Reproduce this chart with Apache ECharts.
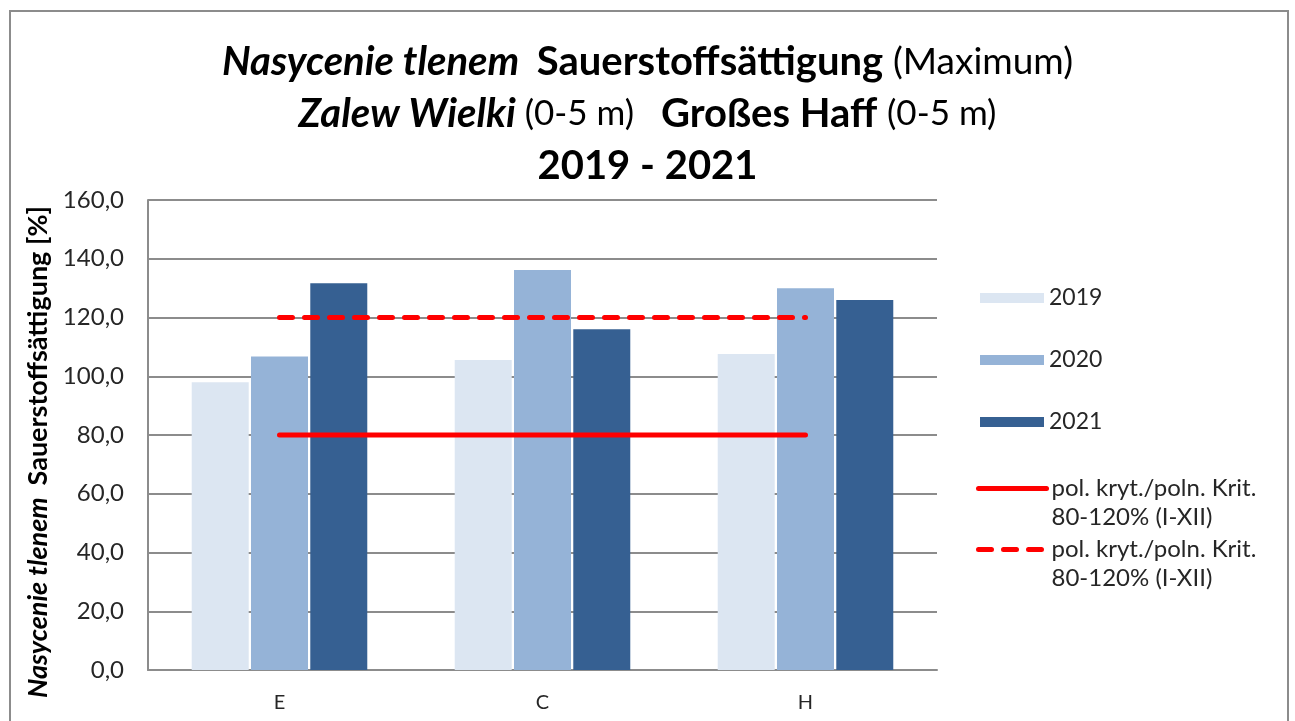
<!DOCTYPE html>
<html>
<head>
<meta charset="utf-8">
<script src="https://cdn.jsdelivr.net/npm/echarts@6/dist/echarts.min.js"></script>
<style>
html, body { margin: 0; padding: 0; background: #fff; }
#chart { width: 1295px; height: 721px; }
</style>
</head>
<body>
<div id="chart"></div>
<script>
// Stationen
var stations = ['E', 'C', 'H'];
// Sauerstoffsättigung Maximum [%]
var sat2019 = [98.0, 105.5, 107.6];
var sat2020 = [106.7, 136.2, 130.0];
var sat2021 = [131.7, 116.0, 126.0];
// Kriterium 80-120%
var krit80 = [80, 80, 80];
var krit120 = [120, 120, 120];
var kritLabel = 'pol. kryt./poln. Krit.\n80-120% (I-XII)';

var font = 'Lato, "Liberation Sans", sans-serif';
var chart = echarts.init(document.getElementById('chart'));

function barSeries(name, data, color) {
	return {
		name : name,
		type : 'bar',
		data : data,
		barWidth : 57,
		barGap : '4%',
		itemStyle : { color : color },
		z : 2
	};
}

function lineSeries(name, data, type) {
	return {
		name : name,
		type : 'line',
		data : data,
		symbol : 'none',
		lineStyle : {
			color : '#ff0000',
			width : 5,
			type : type,
			cap : 'round'
		},
		itemStyle : { color : '#ff0000' },
		z : 5
	};
}

var legendText = {
	fontFamily : font,
	fontSize : 23,
	color : '#262626'
};

function lineLegend(name, top, type) {
	return {
		data : [ name ],
		orient : 'vertical',
		left : 971,
		top : top,
		itemWidth : 68,
		itemHeight : 14,
		itemStyle : { opacity : 0 },
		lineStyle : { color : '#ff0000', width : 5, type : type, cap : 'round' },
		// leere erste Zeile, damit das Symbol neben der ersten Textzeile steht
		formatter : function() { return ' \n' + kritLabel; },
		textStyle : Object.assign({ lineHeight : 29 }, legendText, { fontSize : 24 })
	};
}

var option = {
	backgroundColor : '#fff',
	animation : false,
	textStyle : { fontFamily : font },
	title : {
		left : 'center',
		top : 31,
		text : '{bi|Nasycenie tlenem  }{b|Sauerstoffsättigung }{n|(Maximum)}\n'
			+ '{bi|Zalew Wielki }{s|(0-5 m)   }{b|Großes Haff }{s|(0-5 m)}\n'
			+ '{b|2019 - 2021}',
		textStyle : {
			align : 'center',
			rich : {
				bi : { fontFamily : font, fontSize : 40, fontWeight : 'bold', fontStyle : 'italic', color : '#000', lineHeight : 52 },
				b : { fontFamily : font, fontSize : 40, fontWeight : 'bold', color : '#000', lineHeight : 52 },
				n : { fontFamily : font, fontSize : 37, fontWeight : 'normal', color : '#000', lineHeight : 52 },
				s : { fontFamily : font, fontSize : 35, fontWeight : 'normal', color : '#000', lineHeight : 52 }
			}
		}
	},
	graphic : [ {
		type : 'rect',
		shape : { x : 10, y : 11, width : 1278, height : 730 },
		style : { fill : 'none', stroke : '#8c8c8c', lineWidth : 2 },
		silent : true
	} ],
	legend : [ {
		data : [ '2019', '2020', '2021' ],
		orient : 'vertical',
		left : 975,
		top : 281,
		itemWidth : 64,
		itemHeight : 10,
		itemGap : 38,
		icon : 'rect',
		textStyle : Object.assign({ lineHeight : 24 }, legendText)
	},
		lineLegend('krit80', 440, 'solid'),
		lineLegend('krit120', 501, [ 13, 12 ])
	],
	grid : {
		left : 148,
		right : 358,
		top : 200,
		bottom : 51
	},
	xAxis : {
		type : 'category',
		data : stations,
		axisLine : { lineStyle : { color : '#8c8c8c', width : 2 } },
		axisTick : { show : false },
		axisLabel : {
			fontFamily : font,
			fontSize : 20,
			color : '#262626',
			margin : 23
		}
	},
	yAxis : {
		type : 'value',
		min : 0,
		max : 160,
		interval : 20,
		name : '{bi|Nasycenie tlenem  }{b|Sauerstoffsättigung [%]}',
		nameLocation : 'middle',
		nameRotate : 90,
		nameGap : 96,
		nameTextStyle : {
			padding : [ 0, 34, 0, 0 ],
			rich : {
				bi : { fontFamily : font, fontSize : 27, fontWeight : 'bold', fontStyle : 'italic', color : '#000' },
				b : { fontFamily : font, fontSize : 27, fontWeight : 'bold', color : '#000' }
			}
		},
		axisLine : { show : true, lineStyle : { color : '#8c8c8c', width : 2 } },
		axisTick : { show : false },
		splitLine : { lineStyle : { color : '#8c8c8c', width : 2 } },
		axisLabel : {
			fontFamily : font,
			fontSize : 24,
			color : '#262626',
			margin : 24,
			formatter : function(v) { return v.toFixed(1).replace('.', ','); }
		}
	},
	series : [
		barSeries('2019', sat2019, '#dce6f2'),
		barSeries('2020', sat2020, '#95b3d7'),
		barSeries('2021', sat2021, '#366092'),
		lineSeries('krit80', krit80, 'solid'),
		lineSeries('krit120', krit120, [ 13, 12 ])
	]
};
chart.setOption(option);
</script>
</body>
</html>
